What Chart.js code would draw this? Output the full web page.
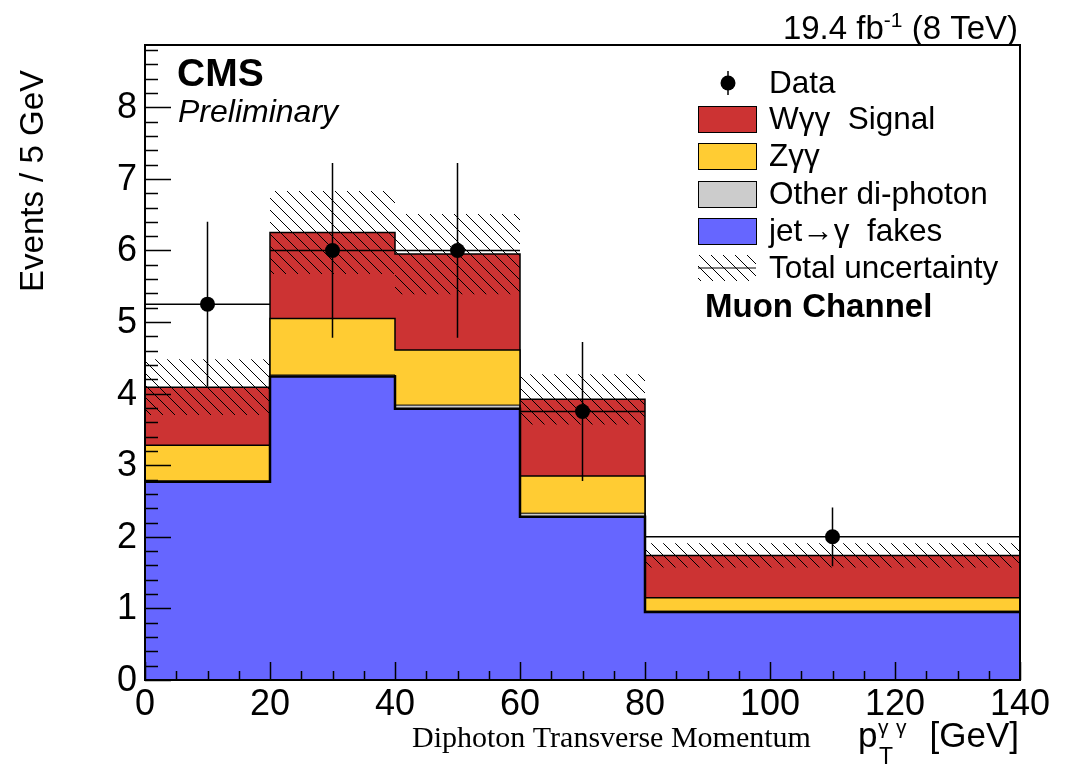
<!DOCTYPE html>
<html>
<head>
<meta charset="utf-8">
<title>Diphoton transverse momentum, muon channel</title>
<script src="https://cdn.jsdelivr.net/npm/chart.js@4.4.1/dist/chart.umd.min.js"></script>
<style>
  html, body { margin: 0; padding: 0; background: #fff; }
  canvas { display: block; }
</style>
</head>
<body>
<canvas id="ptChart" width="1070" height="767"></canvas>
<script>
// pT(γγ) binning, GeV
const binEdges = [0, 20, 40, 60, 80, 140];

// stacked expectation per bin, events / 5 GeV (bottom to top)
const jetFakes = [2.77, 4.24, 3.79, 2.28, 0.95];
const otherDiphoton = [0.01, 0.02, 0.05, 0.05, 0.01];
const zggBkg = [0.50, 0.79, 0.77, 0.52, 0.19];
const wggSignal = [0.81, 1.20, 1.34, 1.07, 0.59];
// total (stat + syst) uncertainty on the sum
const totalUnc = [0.39, 0.58, 0.56, 0.35, 0.17];

// observed data
const dataX = [10, 30, 50, 70, 110];
const dataY = [5.25, 6.0, 6.0, 3.75, 2.0];
const dataErrLo = [1.15, 1.22, 1.22, 0.97, 0.41];
const dataErrHi = [1.15, 1.22, 1.22, 0.97, 0.41];

// axes
const xTicks = [0, 20, 40, 60, 80, 100, 120, 140];
const yTicks = [0, 1, 2, 3, 4, 5, 6, 7, 8];
const X_MINOR = 5;
const Y_MINOR = 0.2;
const Y_MAX = 8.87;

const SANS = "'Liberation Sans', Arial, Helvetica, sans-serif";
const SERIF = "'Liberation Serif', 'Times New Roman', serif";
const COLORS = { signal: '#cc3333', zgg: '#ffcc33', other: '#cccccc', fakes: '#6666ff' };

// diagonal hatch used for the uncertainty band
function makeHatch() {
  const c = document.createElement('canvas');
  c.width = 12; c.height = 12;
  const g = c.getContext('2d');
  g.strokeStyle = '#000';
  g.lineWidth = 1;
  g.beginPath();
  g.moveTo(-2, -2); g.lineTo(14, 14);
  g.moveTo(-2, 10); g.lineTo(2, 14);
  g.moveTo(10, -2); g.lineTo(14, 2);
  g.stroke();
  return g.createPattern(c, 'repeat');
}
const HATCH = makeHatch();

// turn per-bin values into step outline points
function histPoints(values) {
  const pts = [];
  values.forEach((v, i) => {
    pts.push({ x: binEdges[i], y: v });
    pts.push({ x: binEdges[i + 1], y: v });
  });
  return pts;
}
const addLayer = (base, layer) => base.map((v, i) => v + layer[i]);

const topFakes = jetFakes;
const topOther = addLayer(topFakes, otherDiphoton);
const topZgg = addLayer(topOther, zggBkg);
const topTotal = addLayer(topZgg, wggSignal);
const uncUp = topTotal.map((v, i) => v + totalUnc[i]);
const uncDown = topTotal.map((v, i) => v - totalUnc[i]);

function histDataset(values, color, width, order) {
  return {
    data: histPoints(values),
    backgroundColor: color,
    borderColor: '#000',
    borderWidth: width,
    fill: 'origin',
    pointRadius: 0,
    order: order
  };
}

// error bars, inward ticks, frame and tick labels
const rootStyle = {
  id: 'rootStyle',
  afterDatasetsDraw(chart) {
    const { ctx, chartArea: a, scales: { x, y } } = chart;
    ctx.save();

    // data error bars
    ctx.strokeStyle = '#000';
    ctx.lineWidth = 1.5;
    dataX.forEach((xv, i) => {
      const px = x.getPixelForValue(xv);
      const py = y.getPixelForValue(dataY[i]);
      ctx.beginPath();
      ctx.moveTo(px, y.getPixelForValue(dataY[i] - dataErrLo[i]));
      ctx.lineTo(px, y.getPixelForValue(dataY[i] + dataErrHi[i]));
      ctx.moveTo(x.getPixelForValue(binEdges[i]), py);
      ctx.lineTo(x.getPixelForValue(binEdges[i + 1]), py);
      ctx.stroke();
    });

    // ticks pointing into the frame
    ctx.lineWidth = 1.5;
    ctx.beginPath();
    for (let v = 0; v <= Y_MAX + 1e-9; v += Y_MINOR) {
      const major = Math.abs(v - Math.round(v)) < 1e-6;
      const py = Math.round(y.getPixelForValue(v)) + 0.5;
      ctx.moveTo(a.left, py);
      ctx.lineTo(a.left + (major ? 26 : 13), py);
    }
    for (let v = 0; v <= 140; v += X_MINOR) {
      const major = v % 20 === 0;
      const px = Math.round(x.getPixelForValue(v)) + 0.5;
      ctx.moveTo(px, a.bottom);
      ctx.lineTo(px, a.bottom - (major ? 18 : 9));
    }
    ctx.stroke();

    // frame
    ctx.lineWidth = 2;
    ctx.strokeRect(a.left, a.top, a.right - a.left, a.bottom - a.top);

    // tick labels
    ctx.fillStyle = '#000';
    ctx.font = '36px ' + SANS;
    ctx.textAlign = 'right';
    ctx.textBaseline = 'middle';
    yTicks.forEach(v => ctx.fillText(String(v), 137, y.getPixelForValue(v) + 1));
    ctx.textAlign = 'center';
    ctx.textBaseline = 'alphabetic';
    xTicks.forEach(v => ctx.fillText(String(v), x.getPixelForValue(v), 715));

    ctx.restore();
  },
  afterDraw(chart) {
    const ctx = chart.ctx;
    ctx.save();
    ctx.fillStyle = '#000';
    ctx.textBaseline = 'alphabetic';

    // y axis title
    ctx.save();
    ctx.translate(43, 70);
    ctx.rotate(-Math.PI / 2);
    ctx.textAlign = 'right';
    ctx.font = '33px ' + SANS;
    ctx.fillText('Events / 5 GeV', 0, 0);
    ctx.restore();

    // x axis title: p_T^{γγ} [GeV]
    ctx.textAlign = 'left';
    ctx.font = '30px ' + SERIF;
    ctx.fillText('Diphoton Transverse Momentum', 412, 747);
    ctx.font = '35px ' + SANS;
    ctx.fillText('p', 858, 747);
    ctx.font = '23px ' + SANS;
    ctx.fillText('T', 879, 764);
    ctx.font = '21px ' + SANS;
    ctx.fillText('γ', 878, 734);
    ctx.fillText('γ', 896, 734);
    ctx.font = '35px ' + SANS;
    ctx.textAlign = 'right';
    ctx.fillText('[GeV]', 1019, 747);

    // luminosity label
    ctx.textAlign = 'left';
    const big = '33px ' + SANS, small = '21px ' + SANS;
    ctx.font = big;
    const w1 = ctx.measureText('19.4 fb').width;
    const w3 = ctx.measureText(' (8 TeV)').width;
    ctx.font = small;
    const w2 = ctx.measureText('-1').width;
    let lx = 1018 - (w1 + w2 + w3);
    ctx.font = big;
    ctx.fillText('19.4 fb', lx, 39);
    ctx.font = small;
    ctx.fillText('-1', lx + w1, 27);
    ctx.font = big;
    ctx.fillText(' (8 TeV)', lx + w1 + w2, 39);

    // experiment label
    ctx.font = 'bold 39px ' + SANS;
    ctx.fillText('CMS', 177, 86);
    ctx.font = 'italic 32px ' + SANS;
    ctx.fillText('Preliminary', 178, 122);

    // legend
    const boxX = 698, boxW = 58, boxH = 26, textX = 769;
    ctx.font = '31.5px ' + SANS;
    // data marker
    ctx.lineWidth = 1.5;
    ctx.beginPath();
    ctx.moveTo(728, 71); ctx.lineTo(728, 95);
    ctx.stroke();
    ctx.beginPath();
    ctx.arc(728, 83, 7.5, 0, Math.PI * 2);
    ctx.fill();
    ctx.fillText('Data', textX, 93);

    const entries = [
      ['Wγγ  Signal', COLORS.signal, 119],
      ['Zγγ', COLORS.zgg, 156],
      ['Other di-photon', COLORS.other, 194],
      ['jet→γ  fakes', COLORS.fakes, 231],
      ['Total uncertainty', HATCH, 268]
    ];
    entries.forEach(([label, fill, cy]) => {
      const top = cy - boxH / 2;
      ctx.fillStyle = fill;
      ctx.fillRect(boxX, top, boxW, boxH);
      ctx.strokeStyle = '#000';
      ctx.lineWidth = 1;
      if (fill === HATCH) {
        ctx.beginPath();
        ctx.moveTo(boxX, cy); ctx.lineTo(boxX + boxW, cy);
        ctx.stroke();
      } else {
        ctx.strokeRect(boxX + 0.5, top + 0.5, boxW, boxH);
      }
      ctx.fillStyle = '#000';
      ctx.fillText(label, textX, cy + 10);
    });

    ctx.font = 'bold 33px ' + SANS;
    ctx.fillText('Muon Channel', 705, 317);

    ctx.restore();
  }
};

new Chart(document.getElementById('ptChart'), {
  type: 'line',
  data: {
    datasets: [
      {
        data: dataX.map((xv, i) => ({ x: xv, y: dataY[i] })),
        showLine: false,
        pointRadius: 7.5,
        pointBackgroundColor: '#000',
        pointBorderColor: '#000',
        pointBorderWidth: 0,
        order: 0
      },
      {
        data: histPoints(uncUp),
        borderWidth: 0,
        backgroundColor: HATCH,
        fill: '+1',
        pointRadius: 0,
        order: 1
      },
      {
        data: histPoints(uncDown),
        borderWidth: 0,
        fill: false,
        pointRadius: 0,
        order: 2
      },
      histDataset(topFakes, COLORS.fakes, 2.5, 3),
      histDataset(topOther, COLORS.other, 1, 4),
      histDataset(topZgg, COLORS.zgg, 1.5, 5),
      histDataset(topTotal, COLORS.signal, 1.5, 6)
    ]
  },
  options: {
    responsive: false,
    animation: false,
    layout: { padding: { left: 145, right: 50, top: 45, bottom: 87 } },
    plugins: { legend: { display: false }, tooltip: { enabled: false } },
    elements: { line: { tension: 0 } },
    scales: {
      x: { type: 'linear', min: 0, max: 140, display: false },
      y: { type: 'linear', min: 0, max: Y_MAX, display: false }
    }
  },
  plugins: [rootStyle]
});
</script>
</body>
</html>
